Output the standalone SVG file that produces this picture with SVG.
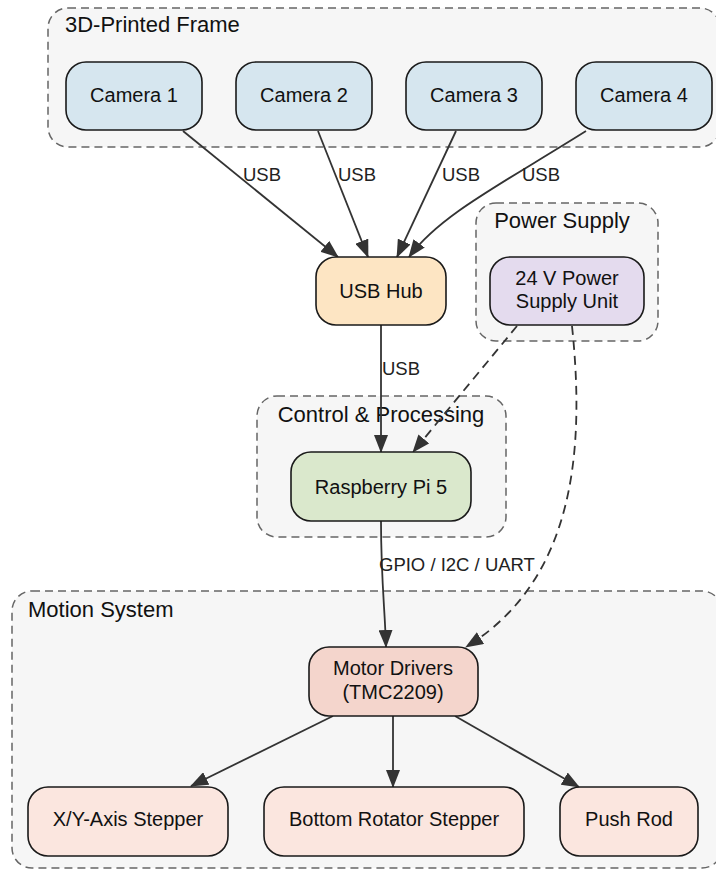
<svg xmlns="http://www.w3.org/2000/svg" width="716" height="870" viewBox="0 0 716 870">
<style>
.cl{fill:#f6f6f6;stroke:#666;stroke-width:1.5;stroke-dasharray:8,5}
.cll{font-family:"Liberation Sans",Arial,sans-serif;font-size:22px;fill:#111}
.n{stroke:#1a1a1a;stroke-width:1.6}
.t{font-family:"Liberation Sans",Arial,sans-serif;font-size:20px;fill:#111;text-anchor:middle}
.e{fill:none;stroke:#333;stroke-width:1.8}
.d{stroke-dasharray:9,6}
.el{font-family:"Liberation Sans",Arial,sans-serif;font-size:18.5px;fill:#222}
</style>
<defs>
<marker id="ah" viewBox="0 0 18 14" refX="17" refY="7" markerWidth="18" markerHeight="14" markerUnits="userSpaceOnUse" orient="auto">
<path d="M0,0 L18,7 L0,14 z" fill="#333"/>
</marker>
</defs>
<g id="cluster-frame">
<rect class="cl" x="48" y="8" width="672" height="139" rx="20"/>
<text class="cll" x="65" y="32">3D-Printed Frame</text>
</g>
<g id="cluster-power">
<rect class="cl" x="476" y="203" width="182" height="138" rx="20"/>
<text class="cll" x="562" y="228" text-anchor="middle">Power Supply</text>
</g>
<g id="cluster-control">
<rect class="cl" x="257" y="396" width="249" height="141" rx="20"/>
<text class="cll" x="381" y="422" text-anchor="middle">Control &amp; Processing</text>
</g>
<g id="cluster-motion">
<rect class="cl" x="12" y="591" width="710" height="277" rx="20"/>
<text class="cll" x="28" y="617">Motion System</text>
</g>
<g id="edges">
<path class="e" marker-end="url(#ah)" d="M183,131 L338,257"/>
<path class="e" marker-end="url(#ah)" d="M318,131 L368,257"/>
<path class="e" marker-end="url(#ah)" d="M456,131 L397,257"/>
<path class="e" marker-end="url(#ah)" d="M586,131 C500,185 440,215 409,257"/>
<path class="e" marker-end="url(#ah)" d="M381,325 L381,452"/>
<path class="e d" marker-end="url(#ah)" d="M517,326 L413,452"/>
<path class="e d" marker-end="url(#ah)" d="M572,326 C585,450 575,580 466,647"/>
<path class="e" marker-end="url(#ah)" d="M381,521 C381,580 385,610 386,647"/>
<path class="e" marker-end="url(#ah)" d="M333,716 L191,786"/>
<path class="e" marker-end="url(#ah)" d="M393,716 L393,787"/>
<path class="e" marker-end="url(#ah)" d="M455,716 L579,787"/>
<text class="el" x="243" y="181">USB</text>
<text class="el" x="338" y="181">USB</text>
<text class="el" x="442" y="181">USB</text>
<text class="el" x="522" y="181">USB</text>
<text class="el" x="382" y="375">USB</text>
<text class="el" x="379" y="571">GPIO / I2C / UART</text>
</g>
<g id="camera1">
<rect class="n" x="66" y="62" width="136" height="68" rx="20" fill="#d6e6ef"/>
<text class="t" x="134" y="102">Camera 1</text>
</g>
<g id="camera2">
<rect class="n" x="236" y="62" width="136" height="68" rx="20" fill="#d6e6ef"/>
<text class="t" x="304" y="102">Camera 2</text>
</g>
<g id="camera3">
<rect class="n" x="406" y="62" width="136" height="68" rx="20" fill="#d6e6ef"/>
<text class="t" x="474" y="102">Camera 3</text>
</g>
<g id="camera4">
<rect class="n" x="576" y="62" width="136" height="68" rx="20" fill="#d6e6ef"/>
<text class="t" x="644" y="102">Camera 4</text>
</g>
<g id="usbhub">
<rect class="n" x="316" y="257" width="130" height="68" rx="20" fill="#fde5c3"/>
<text class="t" x="381" y="298">USB Hub</text>
</g>
<g id="psu">
<rect class="n" x="490" y="257" width="154" height="68" rx="20" fill="#e4dbee"/>
<text class="t" x="567" y="285">24 V Power</text>
<text class="t" x="567" y="308">Supply Unit</text>
</g>
<g id="raspberrypi">
<rect class="n" x="291" y="452" width="180" height="69" rx="20" fill="#dae8cc"/>
<text class="t" x="381" y="494">Raspberry Pi 5</text>
</g>
<g id="motordrivers">
<rect class="n" x="309" y="647" width="169" height="69" rx="20" fill="#f4d5cc"/>
<text class="t" x="393" y="675">Motor Drivers</text>
<text class="t" x="393" y="699">(TMC2209)</text>
</g>
<g id="xystepper">
<rect class="n" x="28" y="787" width="200" height="69" rx="20" fill="#fbe6df"/>
<text class="t" x="128" y="826">X/Y-Axis Stepper</text>
</g>
<g id="bottomstepper">
<rect class="n" x="264" y="787" width="260" height="69" rx="20" fill="#fbe6df"/>
<text class="t" x="394" y="826">Bottom Rotator Stepper</text>
</g>
<g id="pushrod">
<rect class="n" x="560" y="787" width="138" height="69" rx="20" fill="#fbe6df"/>
<text class="t" x="629" y="826">Push Rod</text>
</g>
</svg>
